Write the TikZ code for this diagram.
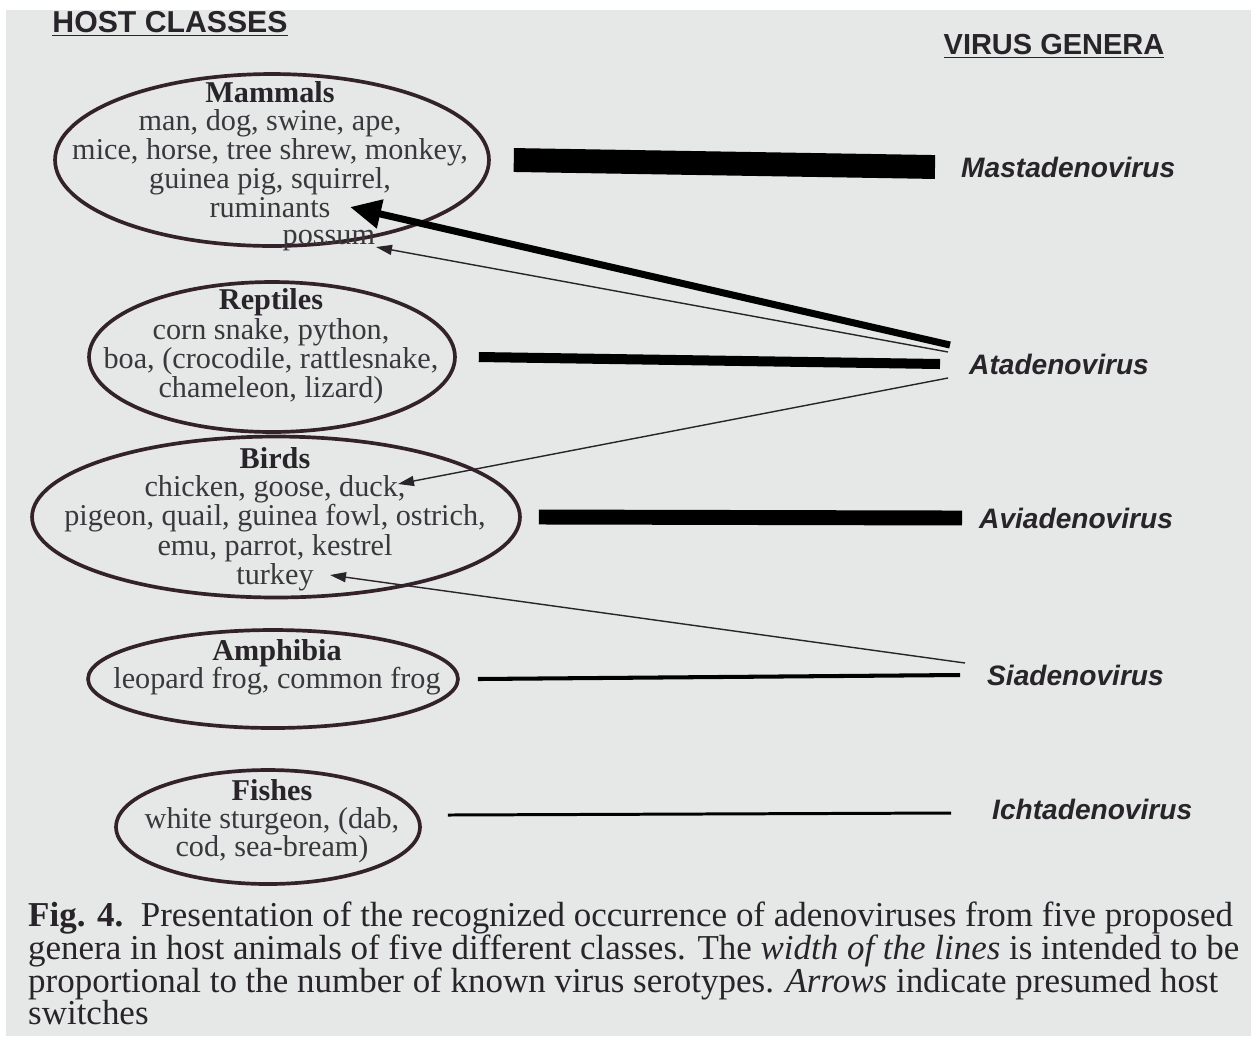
\documentclass[tikz,border=0pt]{standalone}
\usepackage{fontspec}
\setmainfont{Liberation Serif}
\setsansfont{Liberation Sans}
\usetikzlibrary{arrows.meta,shapes.geometric}
\definecolor{page}{RGB}{229,232,230}
\definecolor{ink}{RGB}{40,36,42}
\definecolor{softink}{RGB}{58,56,60}
\definecolor{rim}{RGB}{52,34,42}
\tikzset{
  host/.style={draw=rim, line width=2.1pt, ellipse, inner sep=0pt},
  hosttext/.style={align=center, text=softink, font=\fontsize{17.2}{#1}\selectfont},
  hosttext/.default=14.6pt,
  genus/.style={anchor=west, text=ink, font=\sffamily\bfseries\itshape\fontsize{16}{18}\selectfont},
  heading/.style={text=ink, font=\sffamily\bfseries\fontsize{16.5}{18}\selectfont},
  bar/.style={line width=#1, black},
  switch/.style={-{Triangle[length=0.32cm,width=0.2cm]}, line width=0.8pt, ink},
}
\begin{document}
\begin{tikzpicture}[x=0.02cm,y=-0.02cm]
\useasboundingbox (0,0) rectangle (1251,1036);
\fill[white] (0,0) rectangle (1251,1036);
\fill[page] (6,10) rectangle (1251,1036);
% headings
\node[heading, font=\sffamily\bfseries\fontsize{17.2}{18}\selectfont] (hosts) at (170,24) {\underline{HOST CLASSES}};
\node[heading] (genera) at (1054,46) {\underline{VIRUS GENERA}};
% host classes
\node[host, minimum width=8.68cm, minimum height=3.44cm] (mammals) at (272,160) {};
\node[host, minimum width=7.32cm, minimum height=3.0cm] (reptiles) at (272,357) {};
\node[host, minimum width=9.76cm, minimum height=3.22cm] (birds) at (276,517) {};
\node[host, minimum width=7.4cm, minimum height=1.96cm] (amphibia) at (273,679) {};
\node[host, minimum width=6.08cm, minimum height=2.28cm] (fishes) at (268,827) {};
\node[hosttext=13.6pt] (mammalsT) at (270,166) {\textbf{\color{ink}Mammals}\\[2.5pt] man, dog, swine, ape,\\ mice, horse, tree shrew, monkey,\\ guinea pig, squirrel,\\ ruminants\\[1.8pt] \hspace*{3.9em}possum};
\node[hosttext=14.6pt] (reptilesT) at (271,346) {\textbf{\color{ink}Reptiles}\\[0.5pt] corn snake, python,\\ boa, (crocodile, rattlesnake,\\ chameleon, lizard)};
\node[hosttext=14.9pt] (birdsT) at (275,519) {\textbf{\color{ink}Birds}\\[1pt] chicken, goose, duck,\\ pigeon, quail, guinea fowl, ostrich,\\ emu, parrot, kestrel\\ turkey};
\node[hosttext=15.8pt] (amphibiaT) at (277,667) {\textbf{\color{ink}Amphibia}\\ leopard frog, common frog};
\node[hosttext=15.8pt] (fishesT) at (272,821) {\textbf{\color{ink}Fishes}\\ white sturgeon, (dab,\\ cod, sea-bream)};
% virus genera
\node[genus] (masta) at (955,167) {Mastadenovirus};
\node[genus] (ata) at (963,364) {Atadenovirus};
\node[genus] (avi) at (973,518) {Aviadenovirus};
\node[genus] (sia) at (981,675) {Siadenovirus};
\node[genus] (ichta) at (986,809) {Ichtadenovirus};
% bars, width ~ number of serotypes
\draw[bar=13.6pt] ([xshift=0.46cm]mammals.east) -- ([xshift=-0.4cm]masta.west);
\draw[bar=5.7pt] ([xshift=0.44cm]reptiles.east) -- ([xshift=-0.46cm]ata.west);
\draw[bar=8.5pt] ([xshift=0.34cm]birds.east) -- ([xshift=-0.22cm]avi.west);
\draw[bar=2.3pt] ([xshift=0.36cm]amphibia.east) -- ([xshift=-0.42cm]sia.west);
\draw[bar=1.7pt] ([shift={(0.52cm,0.24cm)}]fishes.east) -- ([shift={(-0.7cm,-0.08cm)}]ichta.west);
% host switches
\coordinate (tipRum) at (350,207);
\coordinate (tipPos) at (376,247);
\coordinate (tipDuck) at (398,484);
\coordinate (tipTur) at (330,575);
\draw[-{Triangle[length=0.62cm,width=0.56cm]}, line width=4pt, black] ([shift={(-0.26cm,0.38cm)}]ata.west) -- (tipRum);
\draw[switch] ([shift={(-0.3cm,0.24cm)}]ata.west) -- (tipPos);
\draw[switch] ([shift={(-0.3cm,-0.28cm)}]ata.west) -- (tipDuck);
\draw[switch] ([shift={(-0.32cm,0.24cm)}]sia.west) -- (tipTur);
% caption
\node[anchor=north west, align=left, text=ink, font=\fontsize{19.9}{18.6}\selectfont] (caption) at (22,896) {\textbf{Fig. 4.}\ \ Presentation of the recognized occurrence of adenoviruses from five proposed\\ genera in host animals of five different classes. The \textit{width of the lines} is intended to be\\ proportional to the number of known virus serotypes. \textit{Arrows} indicate presumed host\\ switches};
\end{tikzpicture}
\end{document}
